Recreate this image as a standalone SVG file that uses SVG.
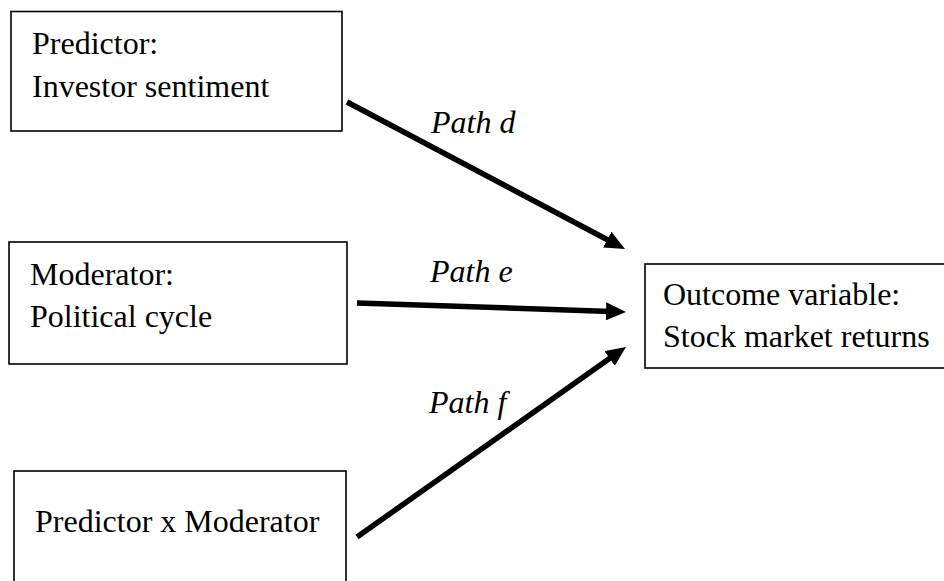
<svg xmlns="http://www.w3.org/2000/svg" width="944" height="581" viewBox="0 0 944 581">
<style>
.box{fill:#fff;stroke:#000;stroke-width:1.6}
text{font-family:"Liberation Serif","Times New Roman",Times,"DejaVu Serif",serif;font-size:32px;fill:#000}
.lbl{font-style:italic}
.arr{stroke:#000;stroke-width:5.5;fill:none;marker-end:url(#ah)}
</style>
<defs>
<marker id="ah" markerUnits="userSpaceOnUse" markerWidth="20" markerHeight="18" refX="5" refY="9" orient="auto" viewBox="0 0 20 18">
<path d="M0,0 L20,9 L0,18 z" fill="#000"/>
</marker>
</defs>
<rect width="944" height="581" fill="#fff"/>
<g font-family="Liberation Serif, Times New Roman, serif">
<g id="predictor">
<rect class="box" x="11" y="11.5" width="331" height="119.5"/>
<text x="32" y="54" font-family="Liberation Serif, serif">Predictor:</text>
<text x="32" y="97" font-family="Liberation Serif, serif">Investor sentiment</text>
</g>
<g id="moderator">
<rect class="box" x="9" y="242" width="338" height="122"/>
<text x="30" y="285" font-family="Liberation Serif, serif">Moderator:</text>
<text x="30" y="327" font-family="Liberation Serif, serif">Political cycle</text>
</g>
<g id="interaction">
<rect class="box" x="14" y="471" width="332" height="130"/>
<text x="35" y="532" font-family="Liberation Serif, serif">Predictor x Moderator</text>
</g>
<g id="outcome">
<rect class="box" x="645" y="264" width="310" height="104"/>
<text x="663" y="305" font-family="Liberation Serif, serif">Outcome variable:</text>
<text x="663" y="347" font-family="Liberation Serif, serif">Stock market returns</text>
</g>
<g id="connectors">
<line class="arr" x1="347" y1="102" x2="611.7" y2="242"/>
<line class="arr" x1="357" y1="303" x2="611" y2="311.5"/>
<line class="arr" x1="357" y1="537" x2="613.7" y2="355.6"/>
<text class="lbl" x="431" y="133" font-family="Liberation Serif, serif">Path d</text>
<text class="lbl" x="430" y="282" font-family="Liberation Serif, serif">Path e</text>
<text class="lbl" x="429" y="413" font-family="Liberation Serif, serif">Path f</text>
</g>
</g>
</svg>
